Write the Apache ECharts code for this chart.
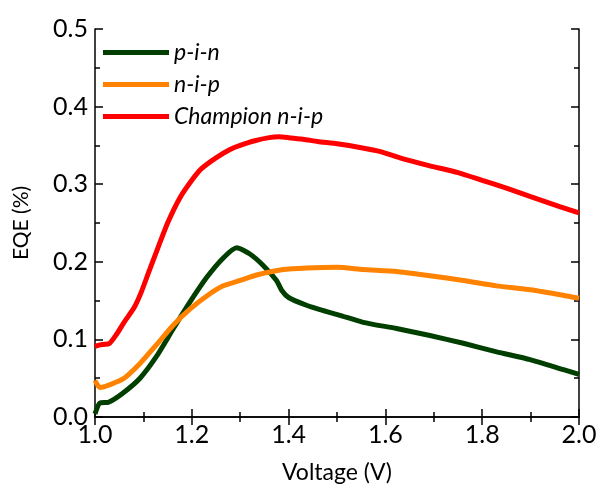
<!DOCTYPE html>
<html><head><meta charset="utf-8">
<script src="https://cdn.jsdelivr.net/npm/echarts@6/dist/echarts.min.js"></script>
<style>html,body{margin:0;padding:0;background:#fff}#c{width:600px;height:489px}</style>
</head><body><div id="c"></div>
<script>
const seriesNames = ['p-i-n', 'n-i-p', 'Champion n-i-p'];
const xTicks = ['1.0','1.2','1.4','1.6','1.8','2.0'];
const yTicks = ['0.0','0.1','0.2','0.3','0.4','0.5'];
const pinV =   [1.00,1.01,1.028,1.058,1.093,1.127,1.162,1.196,1.231,1.265,1.293,1.32,1.348,1.375,1.386,1.40,1.437,1.472,1.506,1.554,1.623,1.692,1.761,1.83,1.899,1.968,2.00];
const pinEQE = [0.004,0.018,0.019,0.031,0.050,0.078,0.114,0.148,0.180,0.205,0.218,0.210,0.195,0.176,0.163,0.154,0.144,0.137,0.131,0.122,0.114,0.105,0.095,0.084,0.074,0.061,0.055];
const nipV =   [1.00,1.01,1.058,1.093,1.127,1.161,1.196,1.231,1.265,1.30,1.334,1.389,1.437,1.50,1.554,1.623,1.692,1.761,1.83,1.899,1.967,2.00];
const nipEQE = [0.047,0.038,0.049,0.069,0.093,0.118,0.139,0.156,0.169,0.176,0.183,0.190,0.192,0.193,0.190,0.1875,0.182,0.176,0.169,0.164,0.157,0.153];
const chV =    [1.00,1.01,1.03,1.045,1.06,1.08,1.095,1.11,1.13,1.15,1.175,1.20,1.22,1.25,1.28,1.30,1.33,1.36,1.38,1.40,1.43,1.46,1.50,1.55,1.59,1.63,1.69,1.75,1.80,1.85,1.90,1.96,2.00];
const chEQE =  [0.091,0.093,0.095,0.107,0.122,0.140,0.160,0.185,0.218,0.250,0.282,0.305,0.320,0.334,0.345,0.350,0.356,0.360,0.361,0.360,0.358,0.355,0.352,0.347,0.342,0.334,0.324,0.315,0.305,0.295,0.284,0.271,0.263];
const colors = ['#003f00', '#ff8200', '#ff0000'];

const zip = (a, b) => a.map((v, i) => [v, b[i]]);
const FONT = 'Lato';
const chart = echarts.init(document.getElementById('c'));
const axisLine = {show: true, lineStyle: {color: '#000', width: 1.5}};
const tick = {show: true, inside: true, length: 8, lineStyle: {color: '#000', width: 1.5}};
const minor = {show: true, splitNumber: 2, length: 5, lineStyle: {color: '#000', width: 1.5}};
const mk = (name, x, y, c) => ({
  name, type: 'line', data: zip(x, y), symbol: 'none', smooth: 0.2,
  lineStyle: {color: c, width: 5}, itemStyle: {color: c}, xAxisIndex: 0, yAxisIndex: 0
});
chart.setOption({
  animation: false,
  backgroundColor: '#fff',
  grid: {left: 95, right: 21, top: 29, bottom: 68},
  legend: {
    orient: 'vertical', left: 98, top: 36, itemGap: 9,
    itemWidth: 66, itemHeight: 5, icon: 'rect',
    textStyle: {fontFamily: FONT, fontStyle: 'italic', fontSize: 23, color: '#000'},
    data: seriesNames
  },
  xAxis: [{
    type: 'value', min: 1.0, max: 2.0, interval: 0.2, position: 'bottom',
    name: 'Voltage (V)', nameLocation: 'middle', nameGap: 44,
    nameTextStyle: {fontFamily: FONT, fontSize: 23, color: '#000'},
    axisLine, axisTick: tick, minorTick: minor, splitLine: {show: false},
    axisLabel: {fontFamily: FONT, fontSize: 25, color: '#000', margin: 5,
      formatter: v => xTicks[Math.round((v - 1) / 0.2)] || ''}
  }, {
    type: 'value', min: 1.0, max: 2.0, interval: 0.2, position: 'top',
    axisLine, axisTick: tick, minorTick: minor, splitLine: {show: false},
    axisLabel: {show: false}
  }],
  yAxis: [{
    type: 'value', min: 0, max: 0.5, interval: 0.1, position: 'left',
    name: 'EQE (%)', nameLocation: 'middle', nameGap: 63, nameRotate: 90,
    nameTextStyle: {fontFamily: FONT, fontSize: 21, color: '#000'},
    axisLine, axisTick: tick, minorTick: minor, splitLine: {show: false},
    axisLabel: {fontFamily: FONT, fontSize: 25, color: '#000', margin: 7,
      formatter: v => yTicks[Math.round(v / 0.1)] || ''}
  }, {
    type: 'value', min: 0, max: 0.5, interval: 0.1, position: 'right',
    axisLine, axisTick: tick, minorTick: minor, splitLine: {show: false},
    axisLabel: {show: false}
  }],
  series: [
    mk(seriesNames[0], pinV, pinEQE, colors[0]),
    mk(seriesNames[1], nipV, nipEQE, colors[1]),
    mk(seriesNames[2], chV, chEQE, colors[2])
  ]
});
</script></body></html>
